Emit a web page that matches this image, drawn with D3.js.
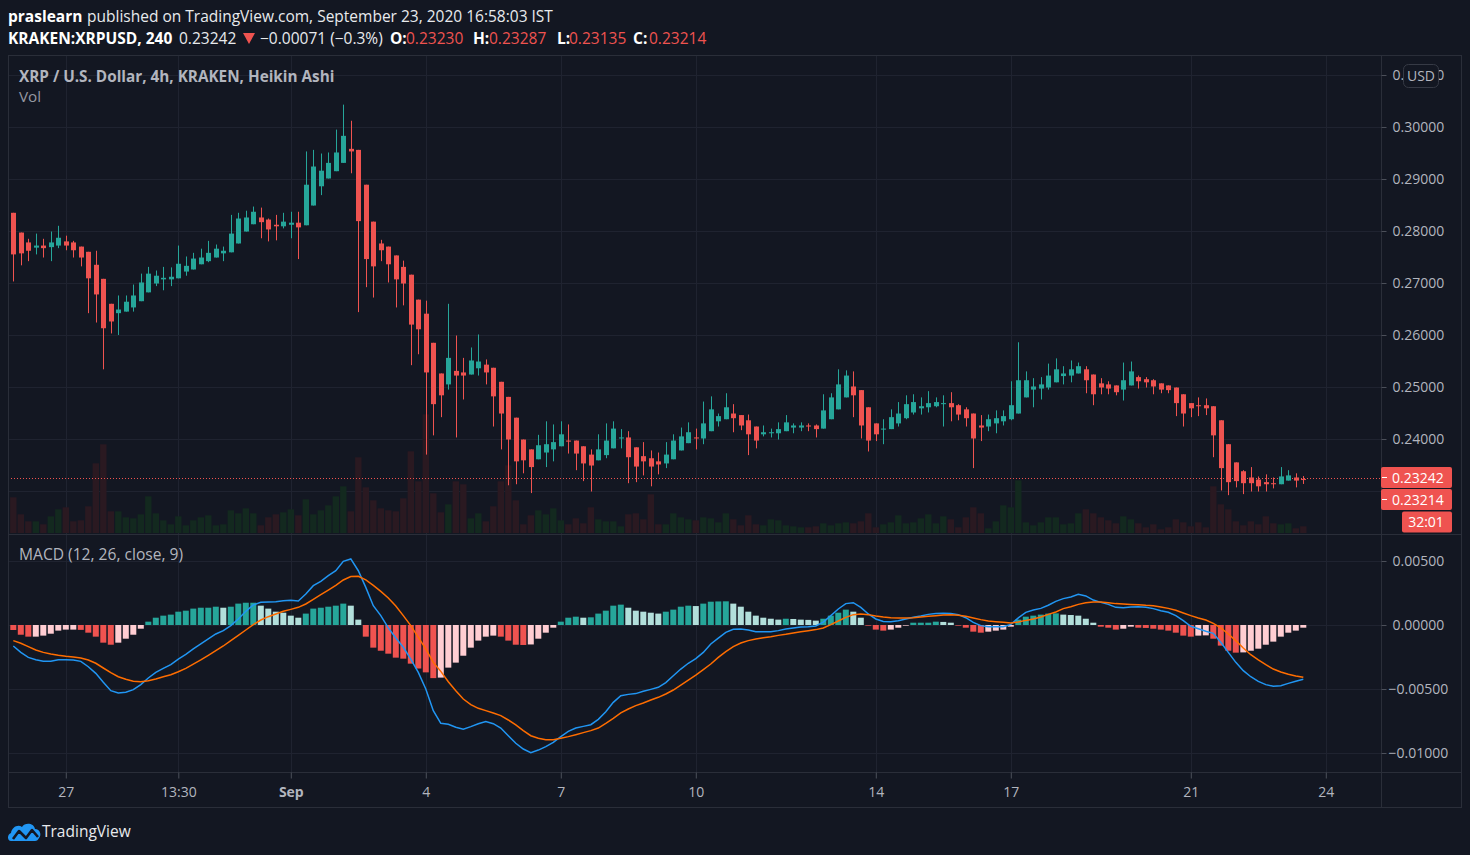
<!DOCTYPE html>
<html lang="en">
<head>
<meta charset="UTF-8">
<title>KRAKEN:XRPUSD 240 Heikin Ashi</title>
<style>
    html, body { margin: 0; padding: 0; background: #131722; }
    svg { display: block; }
    text { font-family: "Open Sans", sans-serif; }
    .axis path { display: none; }
    .axis line { stroke: #4c505b; }
    .axis text { fill: #b2b5be; font-size: 14px; font-family: "Open Sans", sans-serif; }
    .grid { stroke: #1f2330; stroke-width: 1; }
    .frame { stroke: #2a2e39; stroke-width: 1; fill: none; }
</style>
</head>
<body>
<svg width="1470" height="855"></svg>
<script src="https://d3js.org/d3.v7.min.js"></script>
<script>
// ---- data: Heikin Ashi 4h candles, KRAKEN XRPUSD, Aug 26 - Sep 23 2020 ----
var openP = [0.2835,0.2797,0.2778,0.2768,0.2772,0.2769,0.2772,0.2780,0.2778,0.2770,
0.2760,0.2735,0.2708,0.2660,0.2642,0.2645,0.2653,0.2665,0.2682,0.2699,
0.2707,0.2707,0.2709,0.2722,0.2726,0.2736,0.2742,0.2749,0.2757,0.2759,
0.2776,0.2799,0.2813,0.2826,0.2822,0.2812,0.2809,0.2812,0.2816,0.2811,
0.2849,0.2886,0.2901,0.2915,0.2931,0.2958,0.2956,0.2889,0.2818,0.2776,
0.2770,0.2753,0.2731,0.2716,0.2668,0.2641,0.2585,0.2526,0.2505,0.2531,
0.2528,0.2524,0.2536,0.2543,0.2537,0.2510,0.2481,0.2441,0.2399,0.2380,
0.2361,0.2374,0.2380,0.2386,0.2397,0.2397,0.2386,0.2370,0.2359,0.2369,
0.2382,0.2401,0.2403,0.2384,0.2367,0.2363,0.2357,0.2353,0.2361,0.2378,
0.2392,0.2403,0.2401,0.2415,0.2434,0.2438,0.2449,0.2446,0.2436,0.2424,
0.2409,0.2411,0.2411,0.2415,0.2422,0.2422,0.2426,0.2426,0.2420,0.2438,
0.2457,0.2480,0.2501,0.2494,0.2461,0.2430,0.2419,0.2419,0.2430,0.2440,
0.2451,0.2459,0.2461,0.2463,0.2467,0.2469,0.2465,0.2457,0.2449,0.2426,
0.2424,0.2430,0.2434,0.2438,0.2449,0.2480,0.2495,0.2497,0.2499,0.2509,
0.2521,0.2522,0.2526,0.2534,0.2524,0.2507,0.2505,0.2503,0.2495,0.2503,
0.2519,0.2515,0.2513,0.2507,0.2503,0.2499,0.2486,0.2469,0.2465,0.2465,
0.2463,0.2436,0.2390,0.2355,0.2338,0.2326,0.2322,0.2317,0.2315,0.2313,
0.2320,0.2326,0.23230];
var highP = [0.2835,0.2797,0.2785,0.2795,0.2785,0.2799,0.2810,0.2791,0.2781,0.2770,
0.2760,0.2762,0.2708,0.2660,0.2676,0.2676,0.2697,0.2718,0.2731,0.2724,
0.2731,0.2730,0.2772,0.2751,0.2758,0.2766,0.2781,0.2774,0.2770,0.2831,
0.2835,0.2839,0.2847,0.2845,0.2824,0.2831,0.2835,0.2837,0.2837,0.2953,
0.2956,0.2949,0.2951,0.2995,0.3043,0.3012,0.2956,0.2889,0.2818,0.2783,
0.2770,0.2753,0.2743,0.2716,0.2668,0.2666,0.2585,0.2526,0.2660,0.2599,
0.2556,0.2576,0.2601,0.2553,0.2537,0.2510,0.2481,0.2441,0.2399,0.2380,
0.2408,0.2434,0.2428,0.2434,0.2428,0.2397,0.2386,0.2380,0.2409,0.2430,
0.2434,0.2419,0.2415,0.2384,0.2394,0.2378,0.2374,0.2394,0.2409,0.2422,
0.2432,0.2420,0.2472,0.2482,0.2449,0.2488,0.2467,0.2446,0.2447,0.2424,
0.2426,0.2420,0.2432,0.2446,0.2430,0.2432,0.2430,0.2428,0.2486,0.2488,
0.2534,0.2532,0.2530,0.2494,0.2461,0.2430,0.2438,0.2457,0.2471,0.2484,
0.2486,0.2480,0.2492,0.2480,0.2484,0.2490,0.2467,0.2461,0.2449,0.2446,
0.2447,0.2455,0.2455,0.2511,0.2586,0.2530,0.2517,0.2519,0.2545,0.2555,
0.2540,0.2551,0.2547,0.2540,0.2524,0.2517,0.2511,0.2503,0.2547,0.2549,
0.2522,0.2519,0.2515,0.2507,0.2503,0.2499,0.2486,0.2469,0.2480,0.2478,
0.2463,0.2436,0.2390,0.2355,0.2340,0.2346,0.2328,0.2332,0.2326,0.2346,
0.2340,0.2334,0.23287];
var lowP = [0.2703,0.2734,0.2742,0.2755,0.2749,0.2742,0.2767,0.2763,0.2749,0.2732,
0.2642,0.2624,0.2534,0.2603,0.2600,0.2645,0.2645,0.2665,0.2682,0.2694,
0.2686,0.2694,0.2709,0.2714,0.2726,0.2736,0.2740,0.2749,0.2742,0.2759,
0.2776,0.2799,0.2813,0.2786,0.2780,0.2782,0.2805,0.2786,0.2746,0.2811,
0.2849,0.2869,0.2901,0.2915,0.2931,0.2911,0.2644,0.2692,0.2672,0.2742,
0.2701,0.2653,0.2657,0.2542,0.2563,0.2370,0.2407,0.2442,0.2495,0.2403,
0.2476,0.2524,0.2522,0.2505,0.2424,0.2380,0.2311,0.2313,0.2334,0.2296,
0.2361,0.2346,0.2357,0.2386,0.2372,0.2340,0.2319,0.2299,0.2359,0.2363,
0.2382,0.2382,0.2315,0.2317,0.2330,0.2309,0.2332,0.2344,0.2361,0.2378,
0.2392,0.2380,0.2390,0.2415,0.2424,0.2438,0.2413,0.2417,0.2369,0.2382,
0.2405,0.2403,0.2399,0.2415,0.2411,0.2415,0.2415,0.2403,0.2420,0.2438,
0.2457,0.2480,0.2442,0.2401,0.2376,0.2396,0.2390,0.2419,0.2424,0.2438,
0.2447,0.2447,0.2451,0.2461,0.2424,0.2434,0.2436,0.2424,0.2344,0.2396,
0.2415,0.2411,0.2426,0.2436,0.2449,0.2480,0.2461,0.2476,0.2495,0.2509,
0.2505,0.2509,0.2526,0.2488,0.2465,0.2486,0.2486,0.2484,0.2474,0.2503,
0.2497,0.2499,0.2486,0.2488,0.2488,0.2444,0.2424,0.2442,0.2444,0.2446,
0.2365,0.2301,0.2292,0.2307,0.2294,0.2299,0.2299,0.2299,0.2305,0.2313,
0.2320,0.2307,0.23135];
var closeP = [0.2755,0.2757,0.2762,0.2772,0.2767,0.2778,0.2787,0.2772,0.2763,0.2749,
0.2709,0.2678,0.2613,0.2626,0.2649,0.2664,0.2676,0.2701,0.2718,0.2714,
0.2710,0.2712,0.2737,0.2733,0.2747,0.2749,0.2758,0.2766,0.2762,0.2795,
0.2824,0.2826,0.2837,0.2817,0.2803,0.2809,0.2818,0.2816,0.2807,0.2889,
0.2924,0.2916,0.2931,0.2951,0.2983,0.2953,0.2819,0.2746,0.2732,0.2763,
0.2736,0.2707,0.2699,0.2620,0.2611,0.2528,0.2467,0.2484,0.2556,0.2522,
0.2522,0.2551,0.2549,0.2528,0.2482,0.2449,0.2399,0.2357,0.2359,0.2346,
0.2388,0.2390,0.2394,0.2409,0.2395,0.2372,0.2353,0.2349,0.2380,0.2397,
0.2420,0.2403,0.2365,0.2347,0.2357,0.2347,0.2351,0.2370,0.2397,0.2405,
0.2413,0.2401,0.2430,0.2457,0.2444,0.2461,0.2440,0.2426,0.2409,0.2397,
0.2413,0.2413,0.2419,0.2432,0.2426,0.2426,0.2424,0.2419,0.2455,0.2480,
0.2505,0.2522,0.2484,0.2426,0.2397,0.2409,0.2420,0.2442,0.2449,0.2467,
0.2471,0.2463,0.2469,0.2471,0.2469,0.2461,0.2447,0.2440,0.2401,0.2422,
0.2438,0.2440,0.2444,0.2465,0.2513,0.2513,0.2501,0.2505,0.2522,0.2534,
0.2526,0.2534,0.2540,0.2513,0.2486,0.2499,0.2497,0.2490,0.2513,0.2530,
0.2511,0.2509,0.2501,0.2495,0.2494,0.2469,0.2449,0.2459,0.2463,0.2459,
0.2407,0.2344,0.2317,0.2319,0.2315,0.2315,0.2309,0.2313,0.2313,0.2328,
0.2330,0.2320,0.23214];
// volume, thousands of XRP (scale)
var volume = [107,56,35,35,26,50,71,77,35,38,
80,209,266,65,65,47,44,56,110,59,
38,26,50,23,38,47,53,23,26,68,
59,74,59,23,47,56,62,71,53,101,
56,68,83,110,140,65,227,137,98,74,
68,65,104,245,155,356,119,62,86,155,
146,44,59,35,80,155,203,98,26,53,
68,56,74,38,26,44,29,77,41,35,
35,20,56,59,41,116,26,26,59,47,
41,38,47,44,32,59,41,23,53,26,
23,41,38,23,20,17,17,20,29,23,
29,32,29,35,59,17,26,32,53,29,
32,44,56,29,50,41,17,47,77,59,
14,35,83,77,158,32,23,32,47,47,
26,29,59,71,59,47,38,29,50,41,
29,17,26,11,17,41,32,20,32,17,
140,86,71,35,23,35,26,50,29,26,
29,14,20];
// MACD (12, 26, close, 9)
var macdLine = [-0.00164,-0.00214,-0.00253,-0.00271,-0.00284,-0.00284,-0.00271,-0.00271,-0.00273,-0.00284,
-0.00326,-0.00378,-0.00448,-0.00513,-0.00531,-0.00526,-0.00505,-0.00466,-0.00414,-0.00370,
-0.00339,-0.00310,-0.00266,-0.00229,-0.00187,-0.00148,-0.00109,-0.00070,-0.00044,-0.00005,
0.00047,0.00107,0.00156,0.00177,0.00180,0.00182,0.00190,0.00193,0.00187,0.00242,
0.00307,0.00341,0.00385,0.00424,0.00497,0.00516,0.00424,0.00294,0.00151,0.00073,
-0.00023,-0.00102,-0.00174,-0.00266,-0.00370,-0.00500,-0.00669,-0.00768,-0.00776,-0.00799,
-0.00815,-0.00794,-0.00771,-0.00755,-0.00771,-0.00805,-0.00865,-0.00924,-0.00969,-0.00997,
-0.00977,-0.00950,-0.00917,-0.00872,-0.00831,-0.00805,-0.00792,-0.00779,-0.00737,-0.00677,
-0.00604,-0.00552,-0.00542,-0.00536,-0.00518,-0.00503,-0.00487,-0.00450,-0.00396,-0.00344,
-0.00299,-0.00263,-0.00214,-0.00148,-0.00102,-0.00057,-0.00034,-0.00031,-0.00039,-0.00052,
-0.00052,-0.00052,-0.00044,-0.00031,-0.00023,-0.00016,-0.00013,-0.00008,0.00023,0.00073,
0.00125,0.00167,0.00174,0.00138,0.00086,0.00047,0.00028,0.00026,0.00034,0.00047,
0.00060,0.00070,0.00083,0.00089,0.00091,0.00089,0.00081,0.00057,0.00021,-0.00005,
-0.00013,-0.00013,-0.00013,0.00005,0.00055,0.00099,0.00117,0.00130,0.00154,0.00185,
0.00206,0.00219,0.00240,0.00227,0.00195,0.00177,0.00161,0.00138,0.00135,0.00141,
0.00143,0.00138,0.00128,0.00112,0.00099,0.00073,0.00034,-0.00010,-0.00029,-0.00049,
-0.00065,-0.00135,-0.00214,-0.00292,-0.00357,-0.00404,-0.00440,-0.00466,-0.00479,-0.00474,
-0.00456,-0.00440,-0.00424];
var signalLine = [-0.00122,-0.00143,-0.00169,-0.00195,-0.00214,-0.00227,-0.00237,-0.00245,-0.00250,-0.00258,
-0.00273,-0.00299,-0.00336,-0.00372,-0.00404,-0.00424,-0.00440,-0.00443,-0.00435,-0.00422,
-0.00404,-0.00388,-0.00365,-0.00339,-0.00305,-0.00273,-0.00237,-0.00201,-0.00164,-0.00122,
-0.00081,-0.00039,0.00003,0.00039,0.00065,0.00086,0.00107,0.00122,0.00138,0.00164,
0.00201,0.00237,0.00273,0.00310,0.00352,0.00378,0.00380,0.00352,0.00310,0.00263,
0.00211,0.00148,0.00073,-0.00005,-0.00096,-0.00187,-0.00292,-0.00362,-0.00443,-0.00513,
-0.00578,-0.00622,-0.00651,-0.00669,-0.00687,-0.00708,-0.00742,-0.00781,-0.00825,-0.00865,
-0.00885,-0.00896,-0.00896,-0.00885,-0.00872,-0.00857,-0.00841,-0.00825,-0.00805,-0.00768,
-0.00729,-0.00687,-0.00656,-0.00630,-0.00609,-0.00586,-0.00565,-0.00539,-0.00508,-0.00469,
-0.00430,-0.00391,-0.00349,-0.00305,-0.00253,-0.00208,-0.00169,-0.00141,-0.00122,-0.00109,
-0.00099,-0.00091,-0.00081,-0.00073,-0.00062,-0.00052,-0.00044,-0.00036,-0.00023,0.00003,
0.00031,0.00060,0.00081,0.00086,0.00081,0.00070,0.00062,0.00057,0.00055,0.00055,
0.00057,0.00062,0.00068,0.00073,0.00078,0.00081,0.00076,0.00068,0.00055,0.00042,
0.00031,0.00026,0.00021,0.00016,0.00023,0.00036,0.00047,0.00062,0.00083,0.00102,
0.00128,0.00143,0.00161,0.00174,0.00180,0.00180,0.00174,0.00167,0.00164,0.00161,
0.00159,0.00154,0.00151,0.00141,0.00130,0.00115,0.00094,0.00073,0.00055,0.00039,
0.00013,-0.00023,-0.00070,-0.00122,-0.00180,-0.00232,-0.00273,-0.00310,-0.00344,-0.00367,
-0.00385,-0.00398,-0.00409];
var macdHist = [-0.00039,-0.00076,-0.00091,-0.00091,-0.00083,-0.00068,-0.00044,-0.00036,-0.00036,-0.00038,
-0.00060,-0.00091,-0.00138,-0.00154,-0.00138,-0.00107,-0.00076,-0.00029,0.00026,0.00057,
0.00073,0.00081,0.00104,0.00112,0.00128,0.00135,0.00135,0.00143,0.00135,0.00143,
0.00167,0.00174,0.00174,0.00151,0.00128,0.00104,0.00096,0.00073,0.00057,0.00089,
0.00128,0.00135,0.00143,0.00151,0.00167,0.00151,0.00042,-0.00091,-0.00177,-0.00201,
-0.00224,-0.00255,-0.00263,-0.00302,-0.00340,-0.00370,-0.00415,-0.00411,-0.00333,-0.00294,
-0.00240,-0.00177,-0.00122,-0.00091,-0.00083,-0.00091,-0.00122,-0.00154,-0.00156,-0.00152,
-0.00107,-0.00060,-0.00021,0.00026,0.00057,0.00065,0.00057,0.00060,0.00089,0.00112,
0.00151,0.00159,0.00135,0.00112,0.00104,0.00096,0.00089,0.00104,0.00120,0.00143,
0.00151,0.00148,0.00167,0.00182,0.00184,0.00185,0.00167,0.00143,0.00104,0.00073,
0.00057,0.00049,0.00042,0.00049,0.00047,0.00042,0.00040,0.00034,0.00049,0.00073,
0.00096,0.00120,0.00104,0.00057,-0.00005,-0.00036,-0.00044,-0.00036,-0.00021,-0.00005,
0.00018,0.00018,0.00018,0.00026,0.00024,0.00018,-0.00005,-0.00021,-0.00052,-0.00060,
-0.00052,-0.00044,-0.00036,-0.00013,0.00042,0.00065,0.00073,0.00081,0.00089,0.00091,
0.00081,0.00078,0.00073,0.00049,0.00018,-0.00013,-0.00021,-0.00036,-0.00029,-0.00013,
-0.00021,-0.00023,-0.00029,-0.00036,-0.00044,-0.00060,-0.00083,-0.00091,-0.00083,-0.00081,
-0.00107,-0.00161,-0.00201,-0.00216,-0.00214,-0.00201,-0.00185,-0.00154,-0.00130,-0.00091,
-0.00060,-0.00044,-0.00021];
// time axis: candle index -> label
var tickIdx = [7, 22, 37, 55, 73, 91, 115, 133, 157, 175];
var tickLabels = ["27", "13:30", "Sep", "4", "7", "10", "14", "17", "21", "24"];
var priceTicks = [0.23, 0.24, 0.25, 0.26, 0.27, 0.28, 0.29, 0.30, 0.31];
var priceLabels = [0.24, 0.25, 0.26, 0.27, 0.28, 0.29, 0.30, 0.31];
var macdTicks = [0.005, 0, -0.005, -0.01];
var lastPrice = 0.23242, lastClose = 0.23214;

// ---- layout ----
var svg = d3.select("svg");
var L = 8, R = 1381, FR = 1462;
var mTop = 55, mBot = 533, dTop = 535, dBot = 772, aBot = 808;
var UP = "#26a69a", DOWN = "#ef5350";

svg.append("rect").attr("width", 1470).attr("height", 855).attr("fill", "#131722");

var x = d3.scaleLinear().domain([0, openP.length - 1]).range([13.3, 1303.3]);
var y = d3.scaleLinear().domain([0.221923, 0.313846]).range([mBot, mTop]);
var yVol = d3.scaleLinear().domain([0, 300]).range([mBot, mBot - 100]);
var yM = d3.scaleLinear().domain([-0.011484, 0.007031]).range([dBot, dTop]);

var defs = svg.append("defs");
defs.append("clipPath").attr("id", "clipMain").append("rect")
    .attr("x", L).attr("y", mTop).attr("width", R - L).attr("height", mBot - mTop);
defs.append("clipPath").attr("id", "clipMacd").append("rect")
    .attr("x", L).attr("y", dTop).attr("width", R - L).attr("height", dBot - dTop);

// grid
var grid = svg.append("g");
grid.selectAll(".hg").data(priceTicks).enter().append("line").attr("class", "grid")
    .attr("x1", L).attr("x2", R).attr("y1", function (d) { return Math.round(y(d)) + 0.5; })
    .attr("y2", function (d) { return Math.round(y(d)) + 0.5; });
grid.selectAll(".mg").data(macdTicks).enter().append("line").attr("class", "grid")
    .attr("x1", L).attr("x2", R).attr("y1", function (d) { return Math.round(yM(d)) + 0.5; })
    .attr("y2", function (d) { return Math.round(yM(d)) + 0.5; });
grid.selectAll(".vg").data(tickIdx.filter(function (d) { return x(d) < R; })).enter().append("line").attr("class", "grid")
    .attr("x1", function (d) { return Math.round(x(d)) + 0.5; }).attr("x2", function (d) { return Math.round(x(d)) + 0.5; })
    .attr("y1", mTop).attr("y2", dBot);

var idx = d3.range(openP.length);
function isUp(i) { return closeP[i] >= openP[i]; }

// volume
var main = svg.append("g").attr("clip-path", "url(#clipMain)");
main.selectAll(".vol").data(idx).enter().append("rect")
    .attr("x", function (i) { return x(i) - 3.2; })
    .attr("width", 6.4)
    .attr("y", function (i) { return yVol(volume[i]); })
    .attr("height", function (i) { return mBot - yVol(volume[i]); })
    .attr("fill", function (i) { return isUp(i) ? "#13291f" : "#2a1921"; });

// current price line
main.append("line").attr("x1", L).attr("x2", R)
    .attr("y1", Math.round(y(lastPrice)) + 0.5).attr("y2", Math.round(y(lastPrice)) + 0.5)
    .attr("stroke", DOWN).attr("stroke-width", 1).attr("stroke-dasharray", "1,2");

// candles
var candles = main.selectAll(".candle").data(idx).enter().append("g");
candles.append("line")
    .attr("x1", function (i) { return Math.round(x(i)) + 0.5; })
    .attr("x2", function (i) { return Math.round(x(i)) + 0.5; })
    .attr("y1", function (i) { return y(highP[i]); })
    .attr("y2", function (i) { return y(lowP[i]); })
    .attr("stroke", function (i) { return isUp(i) ? UP : DOWN; })
    .attr("stroke-width", 1);
candles.append("rect")
    .attr("x", function (i) { return Math.round(x(i)) + 0.5 - 2.5; })
    .attr("width", 5)
    .attr("y", function (i) { return y(Math.max(openP[i], closeP[i])); })
    .attr("height", function (i) { return Math.max(1, Math.abs(y(openP[i]) - y(closeP[i]))); })
    .attr("fill", function (i) { return isUp(i) ? UP : DOWN; });

// MACD pane
var macd = svg.append("g").attr("clip-path", "url(#clipMacd)");
macd.selectAll(".hist").data(idx).enter().append("rect")
    .attr("x", function (i) { return x(i) - 3; })
    .attr("width", 6)
    .attr("y", function (i) { return Math.min(yM(macdHist[i]), yM(0)); })
    .attr("height", function (i) { return Math.abs(yM(macdHist[i]) - yM(0)); })
    .attr("fill", function (i) {
        var v = macdHist[i], p = i > 0 ? macdHist[i - 1] : 0;
        if (v >= 0) return v >= p ? "#26a69a" : "#b2dfdb";
        return v < p ? "#ef5350" : "#ffcdd2";
    });
var lineM = d3.line().x(function (i) { return x(i); }).y(function (i) { return yM(macdLine[i]); });
var lineS = d3.line().x(function (i) { return x(i); }).y(function (i) { return yM(signalLine[i]); });
macd.append("path").datum(idx).attr("d", lineM).attr("fill", "none").attr("stroke", "#2196f3").attr("stroke-width", 1.5);
macd.append("path").datum(idx).attr("d", lineS).attr("fill", "none").attr("stroke", "#ff6d00").attr("stroke-width", 1.5);

// frame + separators
svg.append("rect").attr("class", "frame").attr("x", L + 0.5).attr("y", mTop + 0.5)
    .attr("width", FR - L - 1).attr("height", aBot - mTop - 1);
svg.append("line").attr("class", "frame").attr("x1", R + 0.5).attr("x2", R + 0.5).attr("y1", mTop).attr("y2", aBot);
svg.append("line").attr("class", "frame").attr("x1", L).attr("x2", FR).attr("y1", 534.5).attr("y2", 534.5);
svg.append("line").attr("class", "frame").attr("x1", L).attr("x2", FR).attr("y1", dBot + 0.5).attr("y2", dBot + 0.5);

// price axes
var fmt = d3.format(".5f");
var pAxis = svg.append("g").attr("class", "axis").attr("transform", "translate(" + (R + 0.5) + ",0)")
    .call(d3.axisRight(y).tickValues(priceLabels).tickFormat(fmt).tickSize(5).tickPadding(6));
var mAxis = svg.append("g").attr("class", "axis").attr("transform", "translate(" + (R + 0.5) + ",0)")
    .call(d3.axisRight(yM).tickValues(macdTicks).tickFormat(fmt).tickSize(5).tickPadding(6));
mAxis.selectAll("text").attr("x", function (d) { return d < 0 ? 7 : 11; });

// USD badge over the top label
svg.append("rect").attr("x", 1403.5).attr("y", 64.5).attr("width", 35).attr("height", 23).attr("rx", 5)
    .attr("fill", "#131722").attr("stroke", "#363a45");
svg.append("text").attr("x", 1421).attr("y", 81).attr("text-anchor", "middle")
    .attr("fill", "#b2b5be").attr("font-size", "14px").text("USD");

// last price labels
function priceTag(x0, y0, w, label, tick, anchor) {
    svg.append("rect").attr("x", x0).attr("y", y0).attr("width", w).attr("height", 21).attr("rx", 2).attr("fill", DOWN);
    if (tick) svg.append("line").attr("x1", R + 1).attr("x2", R + 6).attr("y1", y0 + 10.5).attr("y2", y0 + 10.5)
        .attr("stroke", "#ffffff");
    svg.append("text").attr("x", anchor === "middle" ? x0 + w / 2 - 1 : 1392).attr("y", y0 + 15.5)
        .attr("text-anchor", anchor)
        .attr("fill", "#ffffff").attr("font-size", "14px").text(label);
}
priceTag(R, Math.round(y(lastPrice)) - 11, 71, fmt(lastPrice), true, "start");
priceTag(R, Math.round(y(lastPrice)) + 11, 71, fmt(lastClose), true, "start");
priceTag(1402, Math.round(y(lastPrice)) + 33.5, 50, "32:01", false, "middle");

// time axis
var tAxis = svg.append("g").attr("class", "axis").attr("transform", "translate(0," + (dBot + 0.5) + ")")
    .call(d3.axisBottom(x).tickValues(tickIdx).tickSize(6).tickPadding(9)
        .tickFormat(function (d, i) { return tickLabels[i]; }));
tAxis.selectAll("text").attr("font-weight", function (d, i) { return tickLabels[i] === "Sep" ? "bold" : null; });

// legends
svg.append("text").attr("x", 19).attr("y", 81.5).attr("fill", "#b2b5be").attr("font-size", "15.3px")
    .attr("font-weight", "bold").text("XRP / U.S. Dollar, 4h, KRAKEN, Heikin Ashi");
svg.append("text").attr("x", 19).attr("y", 102).attr("fill", "#9598a1").attr("font-size", "15.3px").text("Vol");
svg.append("text").attr("x", 19).attr("y", 560).attr("fill", "#b2b5be").attr("font-size", "15.6px")
    .text("MACD (12, 26, close, 9)");

// header
var h1 = svg.append("text").attr("y", 21.5).attr("font-size", "15.5px").attr("fill", "#e8eaed");
h1.append("tspan").attr("x", 8).attr("font-weight", "bold").attr("fill", "#ffffff").text("praslearn");
h1.append("tspan").attr("x", 87).text("published on TradingView.com, September 23, 2020 16:58:03 IST");

var h2 = svg.append("text").attr("y", 44).attr("font-size", "15.5px").attr("fill", "#e8eaed");
var parts = [
    [8, "KRAKEN:XRPUSD, 240", true, null],
    [179, "0.23242", false, null],
    [260, "\u22120.00071 (\u22120.3%)", false, null],
    [390, "O:", true, null], [406, "0.23230", false, DOWN],
    [473, "H:", true, null], [489, "0.23287", false, DOWN],
    [557, "L:", true, null], [569, "0.23135", false, DOWN],
    [633, "C:", true, null], [649, "0.23214", false, DOWN]
];
parts.forEach(function (p) {
    h2.append("tspan").attr("x", p[0]).attr("font-weight", p[2] ? "bold" : null)
        .attr("fill", p[3] || (p[2] ? "#ffffff" : "#e8eaed")).text(p[1]);
});
// down triangle after last price
svg.append("path").attr("d", "M243,33 L255,33 L249,44 Z").attr("fill", DOWN);

// TradingView logo
var logo = svg.append("g").attr("transform", "translate(8,821)");
logo.append("path")
    .attr("d", "M3,20 C-1,20 -1,13 3,12 C4,6 10,3 14,6 C17,1 26,2 27,8 C32,8 34,14 31,17 C30,19 29,20 27,20 Z")
    .attr("fill", "#2196f3");
logo.append("polyline").attr("points", "5,18 11,10 18,17 24,9 30,16")
    .attr("fill", "none").attr("stroke", "#131722").attr("stroke-width", 2.6).attr("stroke-linejoin", "round");
svg.append("text").attr("x", 42).attr("y", 837).attr("fill", "#e8eaed").attr("font-size", "15.5px").text("TradingView");
</script>
</body>
</html>
